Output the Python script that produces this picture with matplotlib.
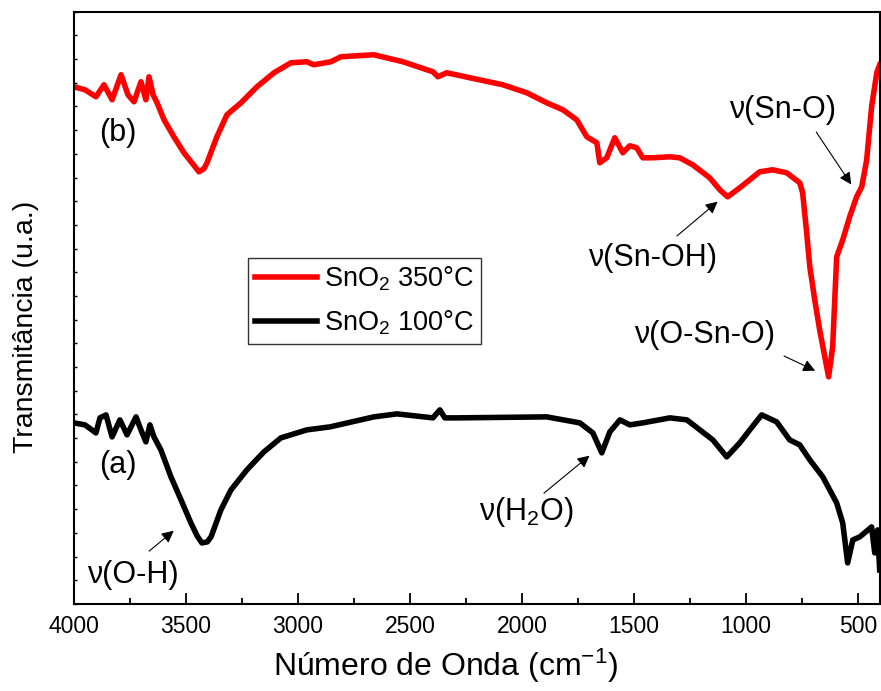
import numpy as np
import matplotlib
matplotlib.use('Agg')
import matplotlib.pyplot as plt

plt.rcParams['font.family'] = ['Liberation Sans', 'DejaVu Sans']
plt.rcParams['mathtext.fontset'] = 'custom'
plt.rcParams['mathtext.rm'] = 'Liberation Sans'
plt.rcParams['mathtext.it'] = 'Liberation Sans:italic'

# FTIR spectra (wavenumber cm-1, transmittance a.u.)
wn_350 = [4000, 3951, 3902, 3866, 3830, 3790, 3759, 3732, 3701, 3679, 3665, 3647,
          3629, 3598, 3554, 3509, 3470, 3442, 3420, 3406, 3362, 3317, 3254, 3183, 3107, 3031,
          2960, 2929, 2853, 2808, 2661, 2531, 2397, 2375, 2335, 2232, 2085, 1978,
          1889, 1817, 1755, 1710, 1665, 1652, 1621, 1585, 1549, 1518, 1487, 1460,
          1415, 1339, 1295, 1237, 1161, 1116, 1081, 1027, 982, 938, 880, 817, 759,
          746, 728, 714, 692, 670, 647, 630, 612, 594, 567, 536, 505, 482, 460,
          438, 415, 402]
t_350 = [517, 514, 507, 519, 504, 529, 509, 502, 522, 504, 527, 509,
         501, 484, 467, 451, 440, 432, 435, 441, 467, 489, 501, 517, 531, 541,
         542, 539, 542, 547, 549, 542, 532, 527, 531, 526, 519, 511,
         501, 494, 484, 467, 461, 441, 446, 466, 451, 458, 456, 446,
         446, 447, 446, 439, 426, 414, 407, 416, 424, 432, 434, 431, 421,
         411, 371, 337, 304, 274, 247, 227, 257, 347, 364, 387, 407, 417, 444,
         497, 531, 539]

wn_100 = [4000, 3951, 3902, 3884, 3857, 3830, 3795, 3763, 3723, 3701, 3679, 3661,
          3643, 3612, 3567, 3522, 3478, 3450, 3429, 3405, 3388, 3344, 3299, 3228, 3152, 3076,
          2960, 2857, 2661, 2558, 2397, 2366, 2344, 2290, 1889, 1741, 1683, 1643,
          1607, 1562, 1518, 1460, 1339, 1263, 1205, 1147, 1085, 1027, 982, 929,
          862, 804, 759, 714, 656, 594, 567, 545, 522, 491, 438, 424, 411, 402]
t_100 = [181, 179, 171, 186, 189, 167, 184, 169, 187, 174, 162, 179,
         167, 154, 127, 104, 81, 68, 61, 62, 67, 94, 114, 134, 152, 166,
         174, 177, 187, 190, 186, 194, 186, 186, 187, 181, 171, 151,
         172, 184, 179, 181, 186, 184, 174, 164, 147, 161, 174, 189,
         182, 164, 159, 144, 127, 101, 81, 41, 64, 67, 77, 51, 74, 34]

# band assignments: (label, text xy, arrow tail, arrow head)
bands = [
    ('ν(O-H)', (3737, 29), (3674, 51), (3545, 75)),
    ('ν(H$_2$O)', (1978, 92), (1911, 109), (1688, 150)),
    ('ν(Sn-OH)', (1415, 346), (1317, 366), (1116, 404)),
    ('ν(O-Sn-O)', (1183, 269), (840, 249), (679, 232)),
    ('ν(Sn-O)', (835, 494), (692, 474), (522, 417)),
]

fig = plt.figure(figsize=(8.81, 6.91), dpi=100)
ax = fig.add_axes([0.084, 0.126, 0.915, 0.857])

ax.plot(wn_350, t_350, color='red', lw=4, label=r'SnO$_2$ 350°C', solid_joinstyle='round')
ax.plot(wn_100, t_100, color='black', lw=4, label=r'SnO$_2$ 100°C', solid_joinstyle='round')

for lab, txt, tail, head in bands:
    ax.text(txt[0], txt[1], lab, fontsize=22, ha='center', va='center')
    ax.annotate('', xy=head, xytext=tail,
                arrowprops=dict(arrowstyle='-|>', lw=0.8, color='black', mutation_scale=18))

ax.text(3804, 471, '(b)', fontsize=22, ha='center', va='center')
ax.text(3804, 139, '(a)', fontsize=22, ha='center', va='center')

ax.set_xlim(4000, 400)
ax.set_ylim(0, 592)
ax.set_xticks([4000, 3500, 3000, 2500, 2000, 1500, 1000, 500])
ax.set_xticks(np.arange(3750, 400, -500), minor=True)
ax.set_yticks(np.linspace(0, 592, 26))
ax.set_yticklabels([])
ax.tick_params(axis='x', which='major', direction='in', length=8, width=1.3, labelsize=16.5, pad=8)
ax.tick_params(axis='x', which='minor', direction='in', length=4.5, width=1.3)
ax.tick_params(axis='y', direction='in', length=2.5, width=1.0)
for sp in ax.spines.values():
    sp.set_linewidth(1.5)

ax.set_xlabel('Número de Onda (cm$^{-1}$)', fontsize=23, labelpad=6, x=0.461)
ax.set_ylabel('Transmitância (u.a.)', fontsize=20.5, labelpad=22, y=0.468)

leg = ax.legend(loc='upper left', bbox_to_anchor=(0.216, 0.584), borderaxespad=0,
                fontsize=19.5, frameon=True, fancybox=False, handlelength=2.3,
                handletextpad=0.25, borderpad=0.25, labelspacing=0.55)
leg.get_frame().set_edgecolor('black')
leg.get_frame().set_linewidth(1.0)

fig.savefig('out.png', dpi=100)
